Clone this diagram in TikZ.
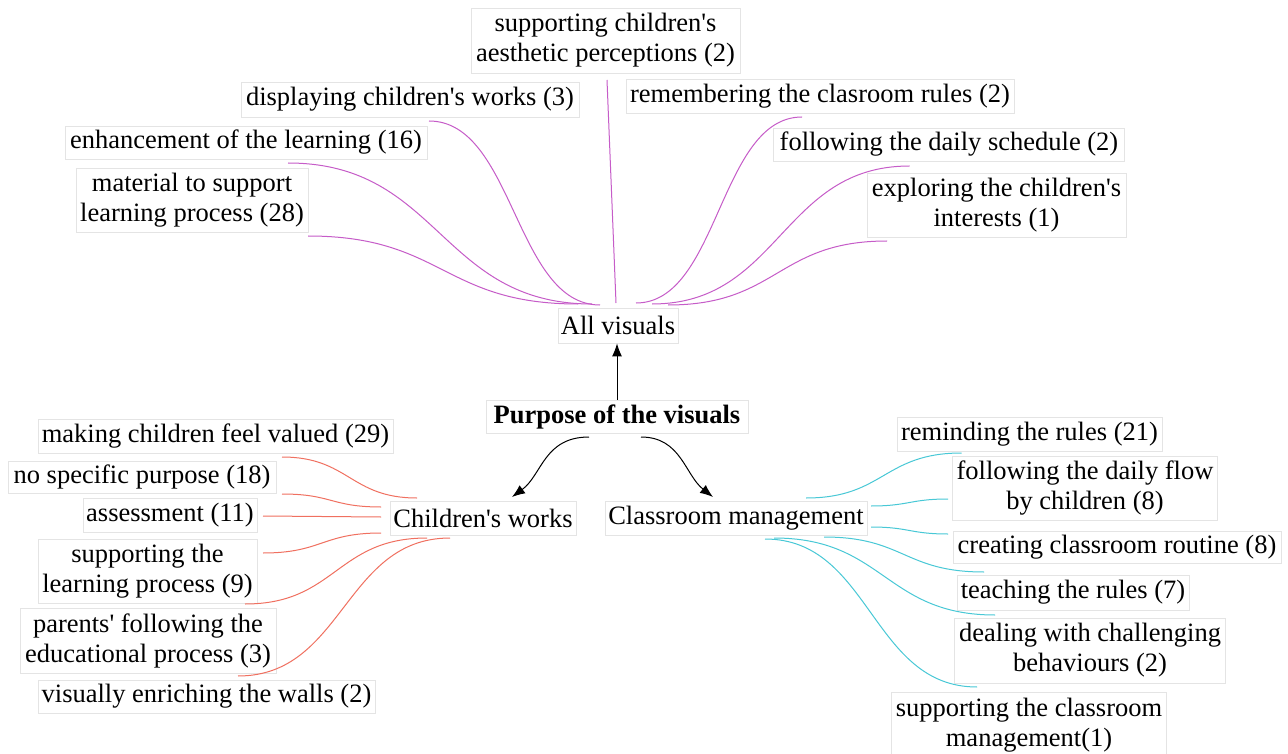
\documentclass[tikz,border=0pt]{standalone}
\usepackage{fontspec}
\setmainfont{Liberation Serif}
\usetikzlibrary{calc,arrows.meta}
\definecolor{vpurple}{RGB}{198,92,200}
\definecolor{vred}{RGB}{240,112,96}
\definecolor{vcyan}{RGB}{72,200,214}
\definecolor{vbox}{RGB}{228,228,228}
\newcommand{\ap}{\textquotesingle}
\tikzset{
  box/.style={draw=vbox, line width=0.8pt, fill=white, inner sep=1pt, align=center,
    font=\fontsize{26.5}{30}\selectfont},
  pc/.style={draw=vpurple, line width=1pt},
  rc/.style={draw=vred, line width=1pt},
  cc/.style={draw=vcyan, line width=1pt},
  arr/.style={draw=black, line width=1pt, -{Latex[length=13pt,width=10pt]}}
}
\begin{document}
\begin{tikzpicture}[x=1pt,y=-1pt]
\useasboundingbox (0,0) rectangle (1288,754);
\fill[white] (0,0) rectangle (1288,754);
% top
\node[box, minimum width=269pt, minimum height=65pt] (aes) at (605.5,40.5) {supporting children\ap s\\aesthetic perceptions (2)};
\node[box, minimum width=338pt, minimum height=35pt] (disp) at (410,99.5) {displaying children\ap s works (3)};
\node[box, minimum width=362pt, minimum height=33pt] (enh) at (246,142.5) {enhancement of the learning (16)};
\node[box, minimum width=232pt, minimum height=64pt] (mat) at (192,200) {material to support\\learning process (28)};
\node[box, minimum width=388pt, minimum height=34pt] (rem) at (820,96) {remembering the clasroom rules (2)};
\node[box, minimum width=351pt, minimum height=33pt] (fol) at (949,144.5) {following the daily schedule (2)};
\node[box, minimum width=259pt, minimum height=64pt] (exp) at (996.5,205) {exploring the children\ap s\\interests (1)};
\node[box, minimum width=120pt, minimum height=35pt] (all) at (618,325.5) {All visuals};
\node[box, minimum width=262pt, minimum height=33pt, font=\fontsize{26.5}{30}\selectfont\bfseries] (pur) at (617,416.5) {Purpose of the visuals};
% left
\node[box, minimum width=355pt, minimum height=34pt] (mak) at (215.5,436) {making children feel valued (29)};
\node[box, minimum width=268pt, minimum height=32pt] (nos) at (142,477) {no specific purpose (18)};
\node[box, minimum width=174pt, minimum height=34pt] (ass) at (170,515) {assessment (11)};
\node[box, minimum width=219pt, minimum height=64pt] (sup) at (147.5,571) {supporting the\\learning process (9)};
\node[box, minimum width=256pt, minimum height=65pt] (par) at (148,640.5) {parents\ap\ following the\\educational process (3)};
\node[box, minimum width=337pt, minimum height=33pt] (vis) at (206.5,696.5) {visually enriching the walls (2)};
\node[box, minimum width=186pt, minimum height=34pt] (cw) at (483,518) {Children\ap s works};
% right
\node[box, minimum width=262pt, minimum height=34pt] (cm) at (736,518) {Classroom management};
\node[box, minimum width=265pt, minimum height=34pt] (rmd) at (1029.5,434) {reminding the rules (21)};
\node[box, minimum width=265pt, minimum height=64pt] (flow) at (1085,488) {following the daily flow\\by children (8)};
\node[box, minimum width=328pt, minimum height=32pt] (cre) at (1117,547) {creating classroom routine (8)};
\node[box, minimum width=232pt, minimum height=35pt] (tea) at (1073,592.5) {teaching the rules (7)};
\node[box, minimum width=271pt, minimum height=65pt] (dea) at (1090,650.5) {dealing with challenging\\behaviours (2)};
\node[box, minimum width=275pt, minimum height=66pt] (scm) at (1029,725) {supporting the classroom\\management(1)};
% purple connectors
\draw[pc] ($(mat.center)+(116,36)$) .. controls +(135,0) and +(-135,0) .. ($(all.center)+(-40,-21.5)$);
\draw[pc] ($(enh.center)+(42,20.5)$) .. controls +(152,0) and +(-152,0) .. ($(all.center)+(-26,-21.5)$);
\draw[pc] ($(disp.center)+(19,21.5)$) .. controls +(85,0) and +(-85,0) .. ($(all.center)+(-18,-20.5)$);
\draw[pc] ($(aes.center)+(1.5,39.5)$) -- ($(all.center)+(-2,-22.5)$);
\draw[pc] ($(all.center)+(18,-22.5)$) .. controls +(83,0) and +(-83,0) .. ($(rem.center)+(-18,21)$);
\draw[pc] ($(all.center)+(34,-21.5)$) .. controls +(128,0) and +(-128,0) .. ($(fol.center)+(-39.5,21.5)$);
\draw[pc] ($(all.center)+(50,-20.5)$) .. controls +(110,0) and +(-110,0) .. ($(exp.center)+(-109.5,36)$);
% red connectors
\draw[rc] ($(mak.center)+(66.5,21)$) .. controls +(67,0) and +(-67,0) .. ($(cw.center)+(-66,-20)$);
\draw[rc] ($(nos.center)+(140,17)$) .. controls +(50,0) and +(-50,0) .. ($(cw.center)+(-102,-11)$);
\draw[rc] ($(ass.center)+(93,1)$) .. controls +(59,0) and +(-59,0) .. ($(cw.center)+(-102,-1)$);
\draw[rc] ($(sup.center)+(115.5,-18)$) .. controls +(59,0) and +(-59,0) .. ($(cw.center)+(-102,15)$);
\draw[rc] ($(par.center)+(97,-36.5)$) .. controls +(91,0) and +(-91,0) .. ($(cw.center)+(-56,20)$);
\draw[rc] ($(vis.center)+(31.5,-20.5)$) .. controls +(106,0) and +(-106,0) .. ($(cw.center)+(-33,20)$);
% cyan connectors
\draw[cc] ($(cm.center)+(70,-20)$) .. controls +(78,0) and +(-78,0) .. ($(rmd.center)+(-68,19)$);
\draw[cc] ($(cm.center)+(135,-12)$) .. controls +(38,0) and +(-38,0) .. ($(flow.center)+(-137,11)$);
\draw[cc] ($(cm.center)+(135,9)$) .. controls +(38,0) and +(-38,0) .. ($(cre.center)+(-169,-13)$);
\draw[cc] ($(cm.center)+(88,19)$) .. controls +(80,0) and +(-80,0) .. ($(tea.center)+(-89,-20.5)$);
\draw[cc] ($(cm.center)+(38,20)$) .. controls +(110,0) and +(-110,0) .. ($(dea.center)+(-95,-35.5)$);
\draw[cc] ($(cm.center)+(29,21)$) .. controls +(106,0) and +(-106,0) .. ($(scm.center)+(-52,-38)$);
% black arrows
\draw[arr] (pur.north) -- (pur.north |- all.south);
\draw[arr] ($(pur.center)+(-28,20.5)$) .. controls +(-45,0) and +(30,-22) .. ($(cw.center)+(29,-21)$);
\draw[arr] ($(pur.center)+(24,20.5)$) .. controls +(40,0) and +(-28,-22) .. ($(cm.center)+(-23,-21)$);
\end{tikzpicture}
\end{document}
